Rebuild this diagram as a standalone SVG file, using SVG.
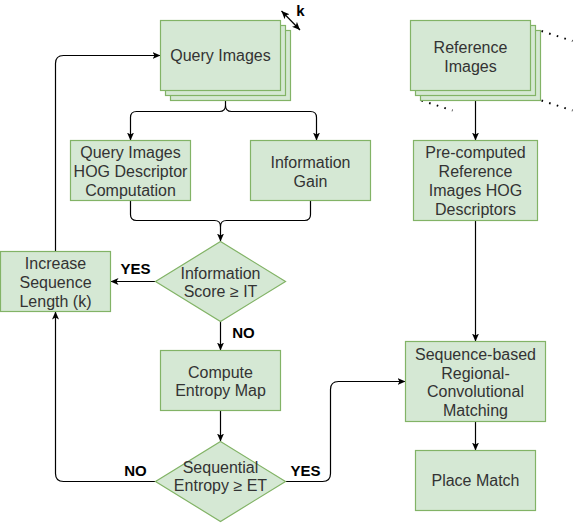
<svg xmlns="http://www.w3.org/2000/svg" width="574" height="523" viewBox="0 0 574 523">
<style>
.n{fill:#d5e8d4;stroke:#82b366;stroke-width:1.2}
.t{font-family:"Liberation Sans",Arial,sans-serif;font-size:16px;fill:#333333;text-anchor:middle;dominant-baseline:central}
.l{font-family:"Liberation Sans",Arial,sans-serif;font-size:15px;font-weight:bold;fill:#000000;text-anchor:middle;dominant-baseline:central}
.c{fill:none;stroke:#000000;stroke-width:1.2}
.d{fill:none;stroke:#000000;stroke-width:2;stroke-dasharray:1.6 6.4}
</style>
<defs>
<marker id="a" markerUnits="userSpaceOnUse" markerWidth="9" markerHeight="8" refX="8" refY="4" orient="auto-start-reverse">
<path d="M0,0.5 L8,4 L0,7.5 L2,4 z" fill="#000000"/>
</marker>
</defs>
<rect width="574" height="523" fill="#ffffff"/>
<g transform="translate(0.5,0.5)">
<g id="connectors">
<path class="c" d="M225,100 L225,105 Q225,111 219,111 L136,111 Q130,111 130,117 L130,140" marker-end="url(#a)"/>
<path class="c" d="M225,105 Q225,111 231,111 L310,111 Q316,111 316,117 L316,140" marker-end="url(#a)"/>
<path class="c" d="M130,200 L130,214 Q130,220 136,220 L214,220 Q220,220 220,226 L220,241" marker-end="url(#a)"/>
<path class="c" d="M310,200 L310,214 Q310,220 304,220 L226,220 Q220,220 220,226"/>
<path class="c" d="M155,281 L110,281" marker-end="url(#a)"/>
<path class="c" d="M220,321 L220,350" marker-end="url(#a)"/>
<path class="c" d="M220,410 L220,441" marker-end="url(#a)"/>
<path class="c" d="M155,481 L63,481 Q55,481 55,473 L55,311" marker-end="url(#a)"/>
<path class="c" d="M55,251 L55,63 Q55,55 63,55 L160,55" marker-end="url(#a)"/>
<path class="c" d="M285,481 L322,481 Q330,481 330,473 L330,389 Q330,381 338,381 L405,381" marker-end="url(#a)"/>
<path class="c" d="M475,100 L475,140" marker-end="url(#a)"/>
<path class="c" d="M475,220 L475,341" marker-end="url(#a)"/>
<path class="c" d="M475,421 L475,450" marker-end="url(#a)"/>
<path class="c" d="M281,10.5 L299.5,29.5" marker-start="url(#a)" marker-end="url(#a)"/>
<text class="l" x="135" y="268">YES</text>
<text class="l" x="243" y="332">NO</text>
<text class="l" x="135" y="470">NO</text>
<text class="l" x="305" y="470">YES</text>
<text class="l" x="300" y="10">k</text>
</g>
<g id="query-images">
<rect class="n" x="170" y="30" width="120" height="70"/>
<rect class="n" x="165" y="25" width="120" height="70"/>
<rect class="n" x="160" y="20" width="120" height="70"/>
<text class="t" x="220" y="55">Query Images</text>
</g>
<g id="reference-images">
<path class="d" d="M541,30.5 L572,40.5"/>
<path class="d" d="M541,100 L572,110"/>
<path class="d" d="M421,100 L452,110"/>
<rect class="n" x="420" y="30" width="120" height="70"/>
<rect class="n" x="415" y="25" width="120" height="70"/>
<rect class="n" x="410" y="20" width="120" height="70"/>
<text class="t" x="470" y="46.5">Reference</text>
<text class="t" x="470" y="65.5">Images</text>
</g>
<g id="query-hog">
<rect class="n" x="70" y="140" width="120" height="60"/>
<text class="t" x="130" y="151.5">Query Images</text>
<text class="t" x="130" y="170.5">HOG Descriptor</text>
<text class="t" x="130" y="189.5">Computation</text>
</g>
<g id="information-gain">
<rect class="n" x="250" y="140" width="120" height="60"/>
<text class="t" x="310" y="161.5">Information</text>
<text class="t" x="310" y="180.5">Gain</text>
</g>
<g id="precomputed-hog">
<rect class="n" x="413" y="140" width="124" height="80"/>
<text class="t" x="475" y="152">Pre-computed</text>
<text class="t" x="475" y="171">Reference</text>
<text class="t" x="475" y="190">Images HOG</text>
<text class="t" x="475" y="209">Descriptors</text>
</g>
<g id="increase-sequence">
<rect class="n" x="0" y="251" width="110" height="60"/>
<text class="t" x="55" y="262.5">Increase</text>
<text class="t" x="55" y="281.5">Sequence</text>
<text class="t" x="55" y="300.5">Length (k)</text>
</g>
<g id="information-score">
<polygon class="n" points="220,241 285,281 220,321 155,281"/>
<text class="t" x="220" y="272.5">Information</text>
<text class="t" x="220" y="291">Score ≥ IT</text>
</g>
<g id="compute-entropy">
<rect class="n" x="160" y="350" width="120" height="60"/>
<text class="t" x="220" y="371.5">Compute</text>
<text class="t" x="220" y="390">Entropy Map</text>
</g>
<g id="sequential-entropy">
<polygon class="n" points="220,441 285,481 220,521 155,481"/>
<text class="t" x="220" y="466.5">Sequential</text>
<text class="t" x="220" y="485">Entropy ≥ ET</text>
</g>
<g id="sequence-matching">
<rect class="n" x="405" y="341" width="140" height="80"/>
<text class="t" x="475" y="353.5">Sequence-based</text>
<text class="t" x="475" y="372.5">Regional-</text>
<text class="t" x="475" y="391">Convolutional</text>
<text class="t" x="475" y="409.5">Matching</text>
</g>
<g id="place-match">
<rect class="n" x="415" y="450" width="120" height="60"/>
<text class="t" x="475" y="480">Place Match</text>
</g>
</g>
</svg>
